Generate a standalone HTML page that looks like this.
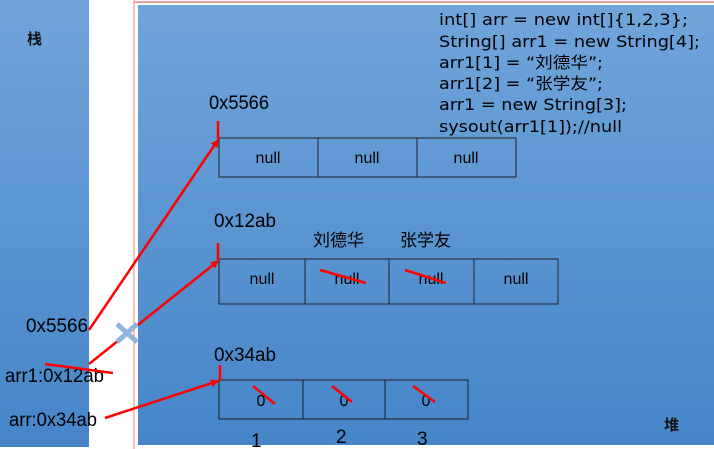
<!DOCTYPE html>
<html><head><meta charset="utf-8"><style>
html,body{margin:0;padding:0;background:#fff;width:714px;height:449px;overflow:hidden}
svg text{font-family:"Liberation Sans","Noto Sans CJK SC",sans-serif}
svg .c{font-family:"DejaVu Sans","Noto Sans CJK SC",sans-serif}
</style></head><body>
<svg width="714" height="449" viewBox="0 0 714 449" xmlns="http://www.w3.org/2000/svg">
<defs>
<linearGradient id="g" x1="0" y1="0" x2="0" y2="1">
<stop offset="0" stop-color="#70a5db"/><stop offset="1" stop-color="#4585c8"/>
</linearGradient>
<marker id="a" markerWidth="8" markerHeight="8" refX="7" refY="4" orient="auto" markerUnits="userSpaceOnUse">
<path d="M0,0 L8,4 L0,8 z" fill="#f00"/></marker>
</defs>
<rect x="0" y="0" width="89" height="447" fill="url(#g)"/>
<line x1="134" y1="0" x2="134" y2="449" stroke="#f08080" stroke-width="1"/>
<line x1="134" y1="2" x2="714" y2="2" stroke="#f0a0a0" stroke-width="2"/>
<rect x="138" y="5" width="576" height="440" fill="url(#g)"/>
<text x="27" y="44" font-size="15" font-weight="bold" fill="#111">栈</text>
<text x="664" y="430" font-size="15" font-weight="bold" fill="#111">堆</text>
<g font-size="16" fill="#000" class="c">
<text class="c" x="439" y="25" textLength="249" lengthAdjust="spacingAndGlyphs">int[] arr = new int[]{1,2,3};</text>
<text class="c" x="439" y="47" textLength="261" lengthAdjust="spacingAndGlyphs">String[] arr1 = new String[4];</text>
<text class="c" x="439" y="68" textLength="164" lengthAdjust="spacingAndGlyphs">arr1[1] = “刘德华”;</text>
<text class="c" x="439" y="89" textLength="164" lengthAdjust="spacingAndGlyphs">arr1[2] = “张学友”;</text>
<text class="c" x="439" y="110" textLength="188" lengthAdjust="spacingAndGlyphs">arr1 = new String[3];</text>
<text class="c" x="439" y="132" textLength="183" lengthAdjust="spacingAndGlyphs">sysout(arr1[1]);//null</text>
</g>
<g font-size="19" fill="#000">
<text x="209" y="109" textLength="60" lengthAdjust="spacingAndGlyphs">0x5566</text>
<text x="214" y="227" textLength="62" lengthAdjust="spacingAndGlyphs">0x12ab</text>
<text x="313" y="246" font-size="17">刘德华</text>
<text x="400" y="246" font-size="17">张学友</text>
<text x="214" y="361" textLength="62" lengthAdjust="spacingAndGlyphs">0x34ab</text>
<text x="26" y="332" textLength="62" lengthAdjust="spacingAndGlyphs">0x5566</text>
<text x="5" y="382" textLength="99" lengthAdjust="spacingAndGlyphs">arr1:0x12ab</text>
<text x="9" y="426" textLength="88" lengthAdjust="spacingAndGlyphs">arr:0x34ab</text>
<text x="251" y="447">1</text>
<text x="336" y="443">2</text>
<text x="417" y="445">3</text>
</g>
<g fill="none" stroke="#222" stroke-width="1">
<rect x="219" y="138" width="297" height="39"/>
<line x1="318" y1="138" x2="318" y2="177"/><line x1="417" y1="138" x2="417" y2="177"/>
<rect x="219" y="259" width="339" height="45"/>
<line x1="305" y1="259" x2="305" y2="304"/><line x1="389" y1="259" x2="389" y2="304"/><line x1="474" y1="259" x2="474" y2="304"/>
<rect x="219" y="380" width="249" height="39"/>
<line x1="303" y1="380" x2="303" y2="419"/><line x1="385" y1="380" x2="385" y2="419"/>
</g>
<g font-size="16" fill="#000" text-anchor="middle">
<text x="268" y="163">null</text><text x="367" y="163">null</text><text x="466" y="163">null</text>
<text x="262" y="284">null</text><text x="347" y="284">null</text><text x="431" y="284">null</text><text x="516" y="284">null</text>
<text x="261" y="406">0</text><text x="344" y="406">0</text><text x="426" y="406">0</text>
</g>
<g stroke="#f00" stroke-width="2.5" fill="none">
<line x1="89" y1="330" x2="218" y2="140" marker-end="url(#a)"/>
<line x1="89" y1="364" x2="218" y2="261" marker-end="url(#a)"/>
<line x1="105" y1="418" x2="218" y2="381" marker-end="url(#a)"/>
<line x1="218" y1="121" x2="218" y2="139"/>
<line x1="218" y1="243" x2="218" y2="260"/>
<line x1="220" y1="365" x2="220" y2="381"/>
<line x1="45" y1="364" x2="113" y2="373"/>
<line x1="320" y1="270" x2="366" y2="283"/>
<line x1="405" y1="270" x2="446" y2="283"/>
<line x1="253" y1="386" x2="275" y2="404"/>
<line x1="332" y1="386" x2="352" y2="402"/>
<line x1="413" y1="386" x2="435" y2="402"/>
</g>
<g stroke="#8fb6e0" stroke-width="5">
<line x1="117" y1="324" x2="137" y2="342"/><line x1="137" y1="324" x2="117" y2="342"/>
</g>
</svg>
</body></html>
